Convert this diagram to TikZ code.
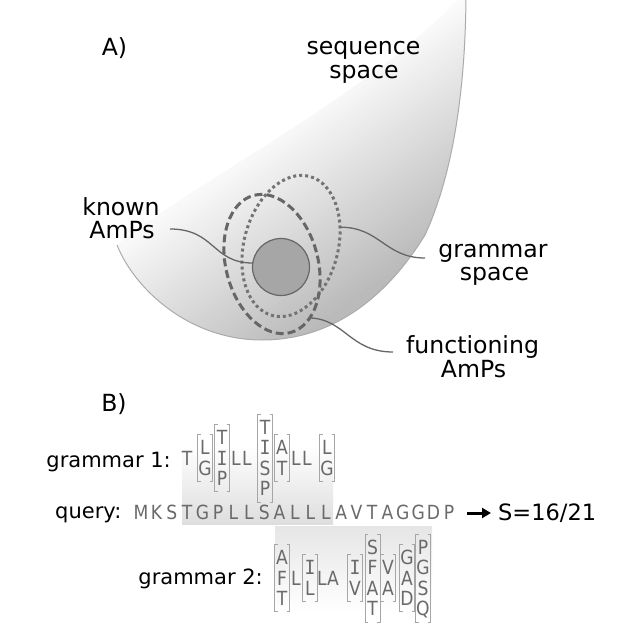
\documentclass[tikz,border=0pt]{standalone}
\usepackage{fontspec}
\setmainfont{DejaVu Sans}
\newfontfamily\monof[FakeStretch=0.93]{DejaVu Sans Mono}
\newfontfamily\letf[FakeStretch=0.88]{DejaVu Sans}
\usetikzlibrary{arrows.meta,shapes.geometric}
\definecolor{lineg}{HTML}{666666}
\definecolor{letg}{HTML}{6a6a6a}
\tikzset{
 lbl/.style={font=\fontsize{23.6}{24}\selectfont, inner sep=0pt, anchor=base},
 blbl/.style={font=\fontsize{21}{24}\selectfont, inner sep=0pt},
 conn/.style={draw=lineg, line width=1.3pt},
 qlet/.style={font=\letf\fontsize{19.5}{21}\selectfont, text=letg, inner sep=0pt, text height=14.2pt, text depth=0pt},
 brk/.style={draw=black!35, line width=0.6pt},
 dashell/.style={ellipse, draw=lineg, line width=3pt, dash pattern=on 8pt off 4pt, inner sep=0pt, outer sep=0pt},
 dotell/.style={ellipse, draw=black!55, line width=3pt, dash pattern=on 3pt off 3pt, inner sep=0pt, outer sep=0pt},
 knownc/.style={circle, draw=lineg, fill=black!35, line width=1.2pt, minimum size=57pt, inner sep=0pt, outer sep=0pt},
}
% #1 name, #2 x, #3 y, #4 number of letters, #5 letters
\newcommand\gcol[5]{%
  \foreach \l [count=\k] in {#5} {\node[qlet] (#1-\k) at (#2, {#3+(\k-(#4+1)/2)*20.5}) {\l};}
  \ifnum#4>1
    \draw[brk] ({#2-4.5},{#3-#4*10.25-3}) -- ({#2-7.5},{#3-#4*10.25-3}) -- ({#2-7.5},{#3+#4*10.25+3}) -- ({#2-4.5},{#3+#4*10.25+3});
    \draw[brk] ({#2+4.5},{#3-#4*10.25-3}) -- ({#2+7.5},{#3-#4*10.25-3}) -- ({#2+7.5},{#3+#4*10.25+3}) -- ({#2+4.5},{#3+#4*10.25+3});
  \fi
}
\begin{document}
\begin{tikzpicture}[x=1pt,y=-1pt]
\useasboundingbox (0,0) rectangle (638,634);
% ---------- sequence space shape ----------
\begin{scope}
  \clip (466,-10) .. controls (466,80) and (455,170) .. (425,235)
        .. controls (385,300) and (330,340) .. (262,340)
        .. controls (190,340) and (135,290) .. (117,245)
        .. controls (180,190) and (380,90) .. (466,-10) -- cycle;
  \begin{scope}[rotate around={35:(290,200)}]
    \fill[white] (-100,-300) rectangle (700,122);
    \foreach \i in {0,...,49} {
      \pgfmathsetmacro\shd{27*\i/49}
      \fill[black!\shd] (-100,{121+4*\i}) rectangle (700,{125.6+4*\i});
    }
    \fill[black!27] (-100,321) rectangle (700,700);
  \end{scope}
\end{scope}
\draw[black!33, line width=1pt] (466,-10) .. controls (466,80) and (455,170) .. (425,235)
        .. controls (385,300) and (330,340) .. (262,340)
        .. controls (190,340) and (135,290) .. (117,245);
% ---------- regions ----------
\node[dotell, minimum width=94pt, minimum height=144pt, rotate=-15] (gram) at (291,246) {};
\node[dashell, minimum width=92pt, minimum height=142pt, rotate=15] (func) at (272,264) {};
\node[knownc] (circ) at (281,267) {};
% ---------- labels A ----------
\node[lbl] (labA) at (114.5,56) {A)};
\node[lbl] (seq1) at (363.5,55) {sequence};
\node[lbl] (seq2) at (364,79) {space};
\node[lbl] (kn1) at (121,215) {known};
\node[lbl] (kn2) at (122,238) {AmPs};
\node[lbl] (gr1) at (493,257) {grammar};
\node[lbl] (gr2) at (494.5,280) {space};
\node[lbl] (fu1) at (472.5,353) {functioning};
\node[lbl] (fu2) at (473.5,377) {AmPs};
% ---------- connectors ----------
\coordinate (knc) at (170,229);
\coordinate (grc) at (425,258);
\coordinate (fuc) at (393,352);
\draw[conn] (knc) .. controls (215,229) and (212,263) .. (circ.172);
\draw[conn] (gram.36) .. controls (380,227) and (385,258) .. (grc);
\draw[conn] (func.-70) .. controls (345,319) and (350,352) .. (fuc);
% ---------- part B ----------
\node[lbl] (labB) at (114,411) {B)};
\shade[top color=white, bottom color=black!13] (182,445) rectangle (333,524);
\shade[top color=black!10, bottom color=white] (275,526) rectangle (432,612);
\node[blbl, anchor=base east] (g1lab) at (171,467) {grammar 1:};
\node[blbl, anchor=base west] (qlab) at (55,518) {query:};
\node[blbl, anchor=base east] (g2lab) at (263,584) {grammar 2:};
\foreach \c [count=\i from 0] in {M,K,S,T,G,P,L,L,S,A,L,L,L,A,V,T,A,G,G,D,P}
  \node[qlet] (q\i) at ({141+15.4*\i},512) {\c};
% grammar 1
\gcol{ga}{187}{458}{1}{T}
\gcol{gb}{205}{458}{2}{L,G}
\gcol{gc}{222}{458}{3}{T,{\monof I},P}
\gcol{gd}{236}{458}{1}{L}
\gcol{ge}{247}{458}{1}{L}
\gcol{gf}{265}{458}{4}{T,{\monof I},S,P}
\gcol{gg}{282}{458}{2}{A,T}
\gcol{gh}{296}{458}{1}{L}
\gcol{gi}{307}{458}{1}{L}
\gcol{gj}{327}{458}{2}{L,G}
% grammar 2
\gcol{ha}{282}{578}{3}{A,F,T}
\gcol{hb}{296}{578}{1}{L}
\gcol{hc}{310}{578}{2}{{\monof I},L}
\gcol{hd}{322}{578}{1}{L}
\gcol{he}{333}{578}{1}{A}
\gcol{hf}{355}{578}{2}{{\monof I},V}
\gcol{hg}{372.5}{578}{4}{S,F,A,T}
\gcol{hh}{388}{578}{2}{V,A}
\gcol{hi}{407}{578}{3}{G,A,D}
\gcol{hj}{423}{578}{4}{P,G,S,Q}
% score
\coordinate (arS) at (467,513);
\coordinate (arE) at (491,513);
\draw[line width=3pt, -{Triangle[length=9pt,width=10pt]}] (arS) -- (arE);
\node[font=\fontsize{22.5}{24}\selectfont, inner sep=0pt, anchor=base west] (score) at (498,520) {S=16/21};
\end{tikzpicture}
\end{document}
